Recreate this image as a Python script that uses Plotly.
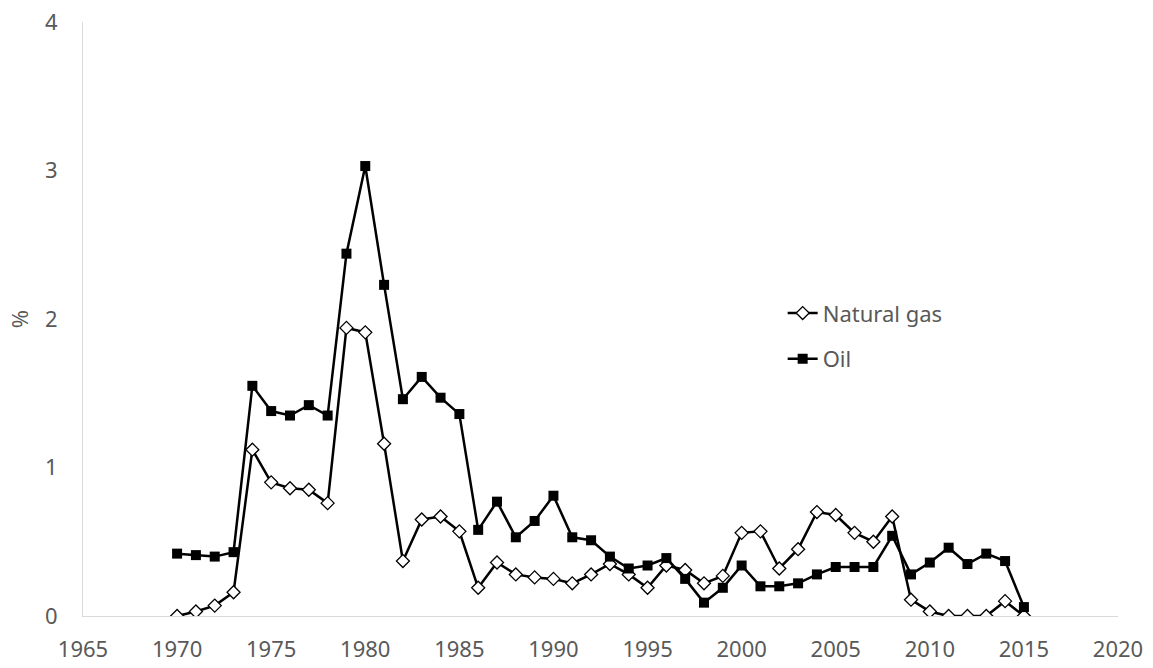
import plotly.graph_objects as go

years = list(range(1970, 2016))
natural_gas = [0.00, 0.03, 0.07, 0.16, 1.12, 0.90, 0.86, 0.85, 0.76, 1.94,
               1.91, 1.16, 0.37, 0.65, 0.67, 0.57, 0.19, 0.36, 0.28, 0.26,
               0.25, 0.22, 0.28, 0.35, 0.28, 0.19, 0.34, 0.31, 0.22, 0.27,
               0.56, 0.57, 0.32, 0.45, 0.70, 0.68, 0.56, 0.50, 0.67, 0.11,
               0.03, 0.00, 0.00, 0.00, 0.10, 0.00]
oil = [0.42, 0.41, 0.40, 0.43, 1.55, 1.38, 1.35, 1.42, 1.35, 2.44,
       3.03, 2.23, 1.46, 1.61, 1.47, 1.36, 0.58, 0.77, 0.53, 0.64,
       0.81, 0.53, 0.51, 0.40, 0.32, 0.34, 0.39, 0.25, 0.09, 0.19,
       0.34, 0.20, 0.20, 0.22, 0.28, 0.33, 0.33, 0.33, 0.54, 0.28,
       0.36, 0.46, 0.35, 0.42, 0.37, 0.06]

x_ticks = list(range(1965, 2021, 5))
y_ticks = [0, 1, 2, 3, 4]

fig = go.Figure()
fig.add_trace(go.Scatter(
    x=years, y=natural_gas, name="Natural gas", mode="lines+markers",
    legendgroup="g1",
    line=dict(color="black", width=2.5),
    marker=dict(symbol="diamond", size=10, color="white",
                line=dict(color="black", width=1.3)),
))
fig.add_trace(go.Scatter(
    x=years, y=oil, name="Oil", mode="lines+markers",
    legendgroup="g2",
    line=dict(color="black", width=2.5),
    marker=dict(symbol="square", size=10, color="black"),
))

font_family = "Noto Sans, Open Sans, sans-serif"
grey = "#595959"
fig.update_layout(
    width=1153, height=668,
    margin=dict(l=83, r=35, t=22, b=52),
    plot_bgcolor="white", paper_bgcolor="white",
    font=dict(family=font_family, size=22, color=grey),
    showlegend=True,
    legend=dict(x=0.676, y=0.545, xanchor="left", yanchor="top",
                bgcolor="rgba(0,0,0,0)", font=dict(size=22, color=grey),
                traceorder="grouped", tracegroupgap=14),
    xaxis=dict(range=[1965, 2020], tickvals=x_ticks, showgrid=False,
               zeroline=False, showline=True, linecolor="#d9d9d9", linewidth=1,
               ticks="outside", ticklen=14, tickcolor="rgba(0,0,0,0)",
               automargin=False, ticklabeloverflow="allow",
               tickfont=dict(size=22, color=grey)),
    yaxis=dict(range=[0, 4], tickvals=y_ticks, showgrid=False,
               zeroline=False, showline=True, linecolor="#d9d9d9", linewidth=1,
               ticks="outside", ticklen=20, tickcolor="rgba(0,0,0,0)",
               automargin=False, ticklabeloverflow="allow",
               title=dict(text="%", standoff=10, font=dict(size=22, color=grey)),
               tickfont=dict(size=22, color=grey)),
)

# remove the browser's default 8px page margin so the figure fills the window
fig.write_html("out.html",
               config={"displayModeBar": False},
               post_script="document.body.style.margin='0';document.body.style.overflow='hidden';")
